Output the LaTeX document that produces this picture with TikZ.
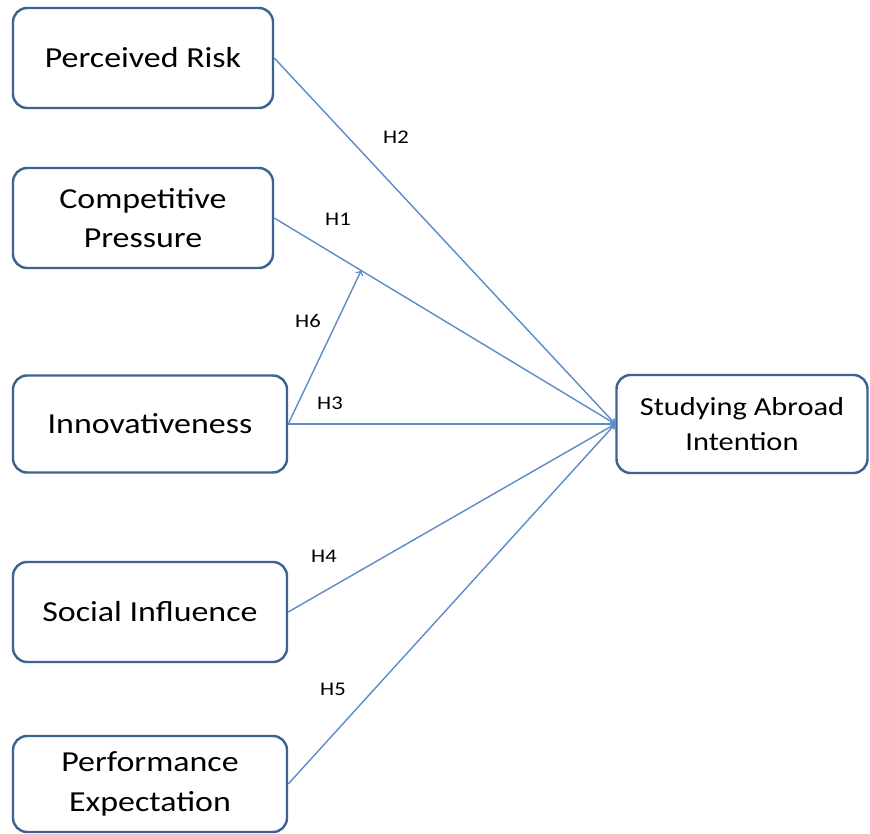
\documentclass[tikz,border=0pt]{standalone}
\usepackage{fontspec}
\setmainfont{Carlito}[FakeStretch=1.17]
\usetikzlibrary{calc}
\definecolor{boxline}{HTML}{3E6391}
\definecolor{arrline}{HTML}{5B8BC9}

\begin{document}
\begin{tikzpicture}[x=0.02cm,y=-0.02cm,
  factor/.style={shape=rectangle, rounded corners=8pt, draw=boxline, line width=1.4pt,
    align=center, font=\fontsize{16.5}{22.5}\selectfont, inner sep=0pt},
  hyp/.style={->, color=arrline, line width=0.8pt, >={to[scale=1.2]}},
  hlabel/.style={font=\fontsize{11}{12}\selectfont}]
  \useasboundingbox (0,0) rectangle (870,834);

  \node [factor, minimum width=260*0.02cm, minimum height=100*0.02cm] (pr) at (143,58) {Perceived Risk};
  \node [factor, minimum width=260*0.02cm, minimum height=100*0.02cm] (cp) at (143,218) {Competitive\\Pressure};
  \node [factor, minimum width=274*0.02cm, minimum height=97*0.02cm] (inn) at (150,424) {Innovativeness};
  \node [factor, minimum width=274*0.02cm, minimum height=100*0.02cm] (si) at (150,612) {Social Influence};
  \node [factor, minimum width=274*0.02cm, minimum height=96*0.02cm] (pe) at (150,784) {Performance\\Expectation};
  \node [factor, minimum width=251*0.02cm, minimum height=98*0.02cm,
    font=\fontsize{14.8}{20}\selectfont] (sai) at (742,424) {Studying Abroad\\Intention};

  \coordinate (mod) at ($(cp.east)!0.255!(sai.west)$);

  \path [hyp] (pr.east) edge (sai.west);
  \path [hyp] (cp.east) edge (sai.west);
  \path [hyp] (inn.east) edge (sai.west);
  \path [hyp] (si.east) edge (sai.west);
  \path [hyp] (pe.east) edge (sai.west);
  \path [hyp] (inn.east) edge (mod);

  \node [hlabel] (h2) at (396,137) {H2};
  \node [hlabel] (h1) at (338,219) {H1};
  \node [hlabel] (h6) at (308,321) {H6};
  \node [hlabel] (h3) at (330,403) {H3};
  \node [hlabel] (h4) at (324,556) {H4};
  \node [hlabel] (h5) at (333,689) {H5};
\end{tikzpicture}
\end{document}
